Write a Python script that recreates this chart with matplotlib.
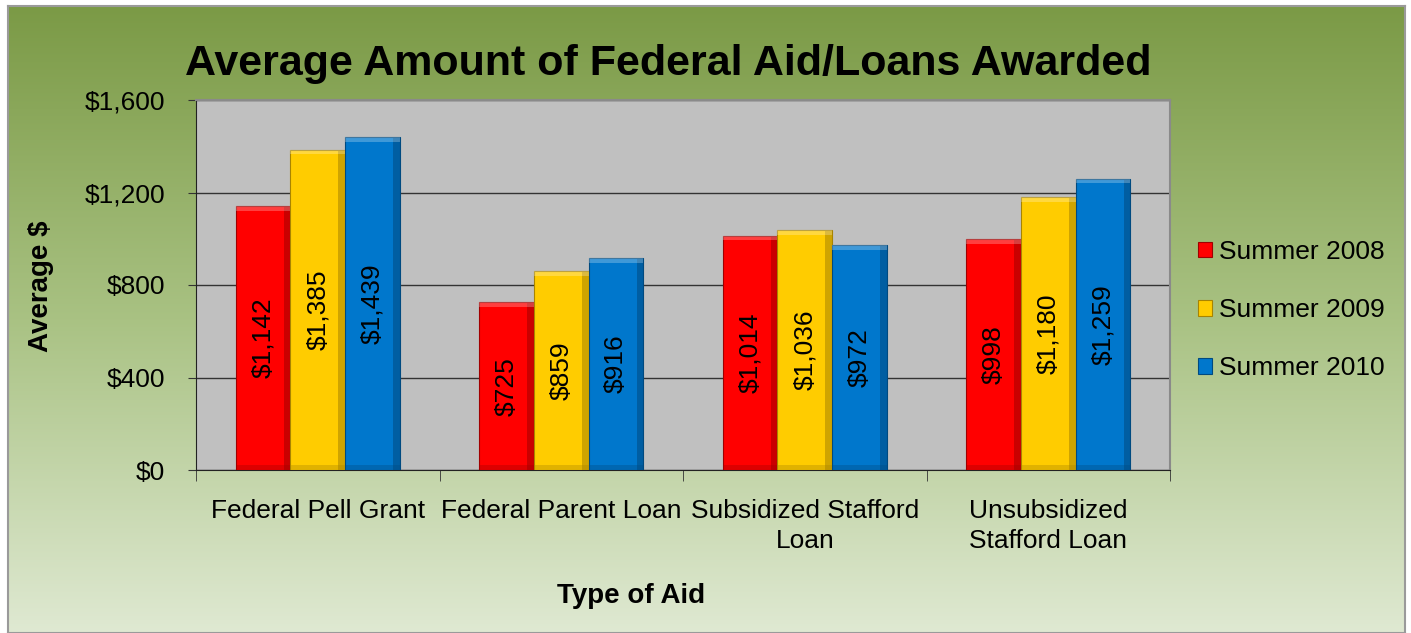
import numpy as np
import matplotlib.pyplot as plt
from matplotlib.colors import LinearSegmentedColormap
from matplotlib.ticker import FuncFormatter

plt.rcParams["font.family"] = ["Liberation Sans", "DejaVu Sans"]

# Data
categories = ["Federal Pell Grant", "Federal Parent Loan",
              "Subsidized Stafford\nLoan", "Unsubsidized\nStafford Loan"]
series_names = ["Summer 2008", "Summer 2009", "Summer 2010"]
summer_2008 = [1142, 725, 1014, 998]
summer_2009 = [1385, 859, 1036, 1180]
summer_2010 = [1439, 916, 972, 1259]
series_values = [summer_2008, summer_2009, summer_2010]
colors = ["#ff0000", "#ffcc00", "#0077cc"]
dark_colors = ["#a00000", "#a88400", "#004a80"]

fig = plt.figure(figsize=(14.11, 6.33), dpi=100)

# Background gradient
bg = fig.add_axes([8 / 1411, 0, 1397 / 1411, 627 / 633], zorder=-10)
grad = np.linspace(0, 1, 256).reshape(-1, 1)
cmap = LinearSegmentedColormap.from_list("bg", ["#7b9a46", "#a9c283", "#dfe9d2"])
bg.imshow(grad, aspect="auto", cmap=cmap, extent=[0, 1, 0, 1], origin="upper")
bg.set_xticks([])
bg.set_yticks([])
for s in bg.spines.values():
    s.set_color("#9a9a9a")
    s.set_linewidth(1.5)

ax = fig.add_axes([196 / 1411, 1 - 470 / 633, 974 / 1411, 370 / 633])
ax.set_facecolor("#c0c0c0")

x = np.arange(len(categories))
width = 0.224
for i, (vals, c, dc, name) in enumerate(zip(series_values, colors, dark_colors, series_names)):
    pos = x + (i - 1) * width
    ax.bar(pos, vals, width, color=c, label=name, zorder=3,
           edgecolor=dc, linewidth=0.8)
    # bevel-ish shading: darker right strip and bottom, lighter top
    ax.bar(pos + width * 0.44, vals, width * 0.12, color=dc, alpha=0.55, zorder=4)
    ax.bar(pos, [20] * len(vals), width, color=dc, alpha=0.35, zorder=4)
    ax.bar(pos, [20] * len(vals), width, bottom=np.array(vals) - 20,
           color="white", alpha=0.25, zorder=4)
    for xp, v in zip(pos, vals):
        ax.text(xp, v / 2, f"${v:,}", rotation=90, ha="center", va="center",
                fontsize=19, zorder=5)

ax.set_ylim(0, 1600)
ax.set_yticks([0, 400, 800, 1200, 1600])
ax.yaxis.set_major_formatter(FuncFormatter(lambda v, p: f"${int(v):,}"))
ax.set_xlim(-0.5, len(categories) - 0.5)
ax.grid(axis="y", color="#333333", linewidth=1, zorder=1)
ax.set_axisbelow(True)

ax.set_xticks(x)
ax.set_xticklabels(categories, fontsize=19, linespacing=1.3)
ax.tick_params(axis="x", length=0, pad=21)
ax.set_xticks(np.arange(-0.5, len(categories)), minor=True)
ax.tick_params(axis="x", which="minor", length=8, color="#333333")
ax.tick_params(axis="y", labelsize=19, length=6, color="#333333", pad=16)

for side in ["top", "right"]:
    ax.spines[side].set_color("#8a8a8a")
    ax.spines[side].set_linewidth(1.5)
ax.spines["left"].set_color("#222222")
ax.spines["bottom"].set_color("#222222")

fig.text(668 / 1411, 1 - 64 / 633, "Average Amount of Federal Aid/Loans Awarded",
         ha="center", va="center", fontsize=31, fontweight="bold")
fig.text(41 / 1411, 1 - 286 / 633, "Average $", rotation=90, ha="center",
         va="center", fontsize=20, fontweight="bold")
fig.text(631 / 1411, 1 - 596 / 633, "Type of Aid", ha="center", va="center",
         fontsize=20, fontweight="bold")

leg = ax.legend(loc="center left", bbox_to_anchor=(1.004, 0.432), frameon=False,
                fontsize=19, handlelength=0.55, handleheight=0.55, handletextpad=0.25,
                labelspacing=1.3)

fig.savefig("out.png", dpi=100)
